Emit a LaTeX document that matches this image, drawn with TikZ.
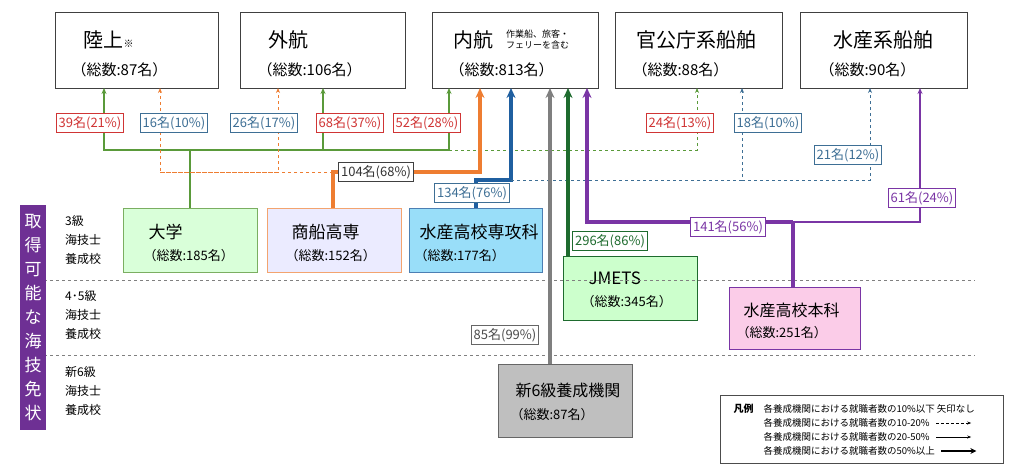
\documentclass[tikz,border=0pt]{standalone}
\usepackage{fontspec}
\setmainfont{Noto Sans CJK JP}
\usetikzlibrary{arrows.meta}
\definecolor{cg}{HTML}{5A9A3A}
\definecolor{cr}{HTML}{D03535}
\definecolor{cb}{HTML}{3E6F95}
\definecolor{co}{HTML}{EE7D31}
\definecolor{cbl}{HTML}{1F5FA0}
\definecolor{cgr}{HTML}{7F7F7F}
\definecolor{cdg}{HTML}{1E6B2E}
\definecolor{cp}{HTML}{7A35A5}
\newcommand{\fs}[1]{\fontsize{#1}{#1}\selectfont}
\newcommand{\fsl}[2]{\fontsize{#1}{#2}\selectfont}
\begin{document}
\begin{tikzpicture}[x=1pt,y=-1pt,
  top/.style={draw=black!75,line width=1pt,minimum width=#1,minimum height=76pt,anchor=north west,inner sep=0},
  sbox/.style={line width=1.2pt,anchor=north west,inner sep=0},
  ttl/.style={anchor=west,font=\fs{20}},
  sub/.style={anchor=west,font=\fs{15}},
  lab/.style={draw=#1,fill=white,text=#1,font=\fs{13},inner sep=2.5pt,line width=0.8pt},
  thin/.style={line width=1.2pt,-{Stealth[length=6pt,width=5pt]}},
  dsh/.style={line width=0.8pt,dashed,-{Stealth[length=5pt,width=4pt]}},
  thick/.style={line width=3.5pt,-{Stealth[length=10pt,width=9pt]}},
  lvl/.style={anchor=north west,align=left,font=\fsl{12}{19},inner sep=0}]
\useasboundingbox (0,0) rectangle (1024,467);
% top boxes
\node[top=163pt] (rk) at (55,12) {};
\node[top=165pt] (gk) at (240,12) {};
\node[top=166pt] (nk) at (432,12) {};
\node[top=167pt] (kk) at (615,12) {};
\node[top=167pt] (sk) at (800,12) {};
\node[ttl] (t1) at (80,40) {陸上{\fs{10}※}};
\node[sub] (s1) at (68,70) {（総数:87名）};
\node[ttl] (t2) at (265,40) {外航};
\node[sub] (s2) at (254,70) {（総数:106名）};
\node[ttl] (t3) at (450,40) {内航};
\node[anchor=west,font=\fsl{9}{11},align=left,inner sep=0] (t3b) at (506,40) {作業船、旅客・\\フェリーを含む};
\node[sub] (s3) at (446,70) {（総数:813名）};
\node[ttl] (t4) at (633,40) {官公庁系船舶};
\node[sub] (s4) at (629,70) {（総数:88名）};
\node[ttl] (t5) at (830,40) {水産系船舶};
\node[sub] (s5) at (816,70) {（総数:90名）};
% lower boxes
\node[sbox,draw=cg!80,fill=green!15,minimum width=134pt,minimum height=64pt] (dg) at (123,208) {};
\node[ttl,font=\fs{17}] at (145,232) {大学};
\node[sub,font=\fs{13}] at (140,256) {（総数:185名）};
\node[sbox,draw=co!70,fill=blue!8,minimum width=134pt,minimum height=64pt] (ss) at (267,208) {};
\node[ttl,font=\fs{17}] at (288,232) {商船高専};
\node[sub,font=\fs{13}] at (282,256) {（総数:152名）};
\node[sbox,draw=cbl!80,fill=cyan!40!white,minimum width=133pt,minimum height=64pt] (sks) at (409,208) {};
\node[ttl,font=\fs{17}] at (416,232) {水産高校専攻科};
\node[sub,font=\fs{13}] at (411,256) {（総数:177名）};
\node[sbox,draw=cdg,fill=green!20,minimum width=134pt,minimum height=64pt] (jm) at (563,256) {};
\node[ttl,font=\fs{17}] at (585,278) {JMETS};
\node[sub,font=\fs{13}] at (578,302) {（総数:345名）};
\node[sbox,draw=cp,fill=magenta!20,minimum width=131pt,minimum height=62pt] (shk) at (729,287) {};
\node[ttl,font=\fs{16}] at (740,310) {水産高校本科};
\node[sub,font=\fs{13}] at (733,333) {（総数:251名）};
\node[sbox,draw=black!60,fill=black!25,minimum width=134pt,minimum height=73pt] (r6) at (498,364) {};
\node[ttl,font=\fs{16}] at (512,390) {新6級養成機関};
\node[sub,font=\fs{13}] at (507,415) {（総数:87名）};
% separators
\draw[black!50,dashed,line width=0.7pt] (20,280) coordinate (l1a) -- (975,280) coordinate (l1b);
\draw[black!50,dashed,line width=0.7pt] (20,355) coordinate (l2a) -- (975,355) coordinate (l2b);
% left side
\node[fill=cp!90!black,text=white,minimum width=26pt,minimum height=225pt,anchor=north west,inner sep=0,align=center,font=\fsl{17}{24},text width=18pt] (side) at (20,205) {取\\得\\可\\能\\な\\海\\技\\免\\状};
\node[lvl] (v1) at (65,215) {3級\\海技士\\養成校};
\node[lvl] (v2) at (65,290) {4･5級\\海技士\\養成校};
\node[lvl] (v3) at (65,366) {新6級\\海技士\\養成校};
% green (大学)
\coordinate (gj) at (190,150);
\draw[cg,line width=1.2pt] (dg.north -| gj) -- (gj);
\draw[cg,thin] (gj) -| (104,88);
\draw[cg,thin] (104,150) -| (323,88);
\draw[cg,thin] (323,150) -| (449,88);
\draw[cg,dsh] (449,150) -| (697,88);
% orange
\draw[co,dsh] (333,172) -| (160,88);
\draw[co,dsh] (160,172) -| (278,88);
\draw[co,thick] (ss.north -| 333,0) -- (333,172) -| (480,88);
% blue
\draw[cbl,thick] (sks.north -| 476,0) -- (476,180) -| (511,88);
\draw[cb,dsh] (511,180) -| (742,88);
\draw[cb,dsh] (742,180) -| (870,88);
% gray
\draw[cgr,thick] (r6.north -| 550,0) -- (550,88);
% dark green
\draw[cdg,thick] (jm.north -| 568,0) -- (568,88);
% purple
\draw[cp,line width=3.5pt] (shk.north -| 793,0) -- (793,222);
\draw[cp,thick] (793,222) -| (587,88);
\draw[cp,thin] (793,222) -| (920,88);
% labels
\node[lab=cr] (a1) at (90,123) {39名(21\%)};
\node[lab=cb] (a2) at (174,123) {16名(10\%)};
\node[lab=cb] (a3) at (264,123) {26名(17\%)};
\node[lab=cr] (a4) at (350,123) {68名(37\%)};
\node[lab=cr] (a5) at (427,123) {52名(28\%)};
\node[lab=cr] (a6) at (680,123) {24名(13\%)};
\node[lab=cb] (a7) at (768,123) {18名(10\%)};
\node[lab=cb] (a8) at (848,155) {21名(12\%)};
\node[lab=black!75,text=black!80] (a9) at (376,172) {104名(68\%)};
\node[lab=cb] (a10) at (472,193) {134名(76\%)};
\node[lab=cp] (a11) at (922,198) {61名(24\%)};
\node[lab=cp] (a12) at (728,227) {141名(56\%)};
\node[lab=cdg] (a13) at (610,241) {296名(86\%)};
\node[lab=black!60,text=black!70] (a14) at (505,335) {85名(99\%)};
% legend
\node[draw=black!70,line width=0.8pt,minimum width=283pt,minimum height=68pt,anchor=north west,inner sep=0] (lg) at (720,395) {};
\node[anchor=west,font=\bfseries\fs{10}] (lgt) at (730,409) {凡例};
\node[anchor=west,font=\fs{9.5}] (lg1) at (760,409) {各養成機関における就職者数の10\%以下\ 矢印なし};
\node[anchor=west,font=\fs{9.5}] (lg2) at (760,423) {各養成機関における就職者数の10-20\%};
\node[anchor=west,font=\fs{9.5}] (lg3) at (760,437) {各養成機関における就職者数の20-50\%};
\node[anchor=west,font=\fs{9.5}] (lg4) at (760,451) {各養成機関における就職者数の50\%以上};
\draw[densely dashed,line width=0.7pt,-{Stealth[length=4pt]}] (lg2.east) ++(3,0) coordinate (d1) -- ++(35,0) coordinate (d2);
\draw[line width=0.8pt,-{Stealth[length=4pt]}] (lg3.east) ++(3,0) coordinate (d3) -- ++(35,0) coordinate (d4);
\draw[line width=2.5pt,-{Stealth[length=6pt,width=6pt]}] (lg4.east) ++(3,0) coordinate (d5) -- ++(35,0) coordinate (d6);
\end{tikzpicture}
\end{document}
